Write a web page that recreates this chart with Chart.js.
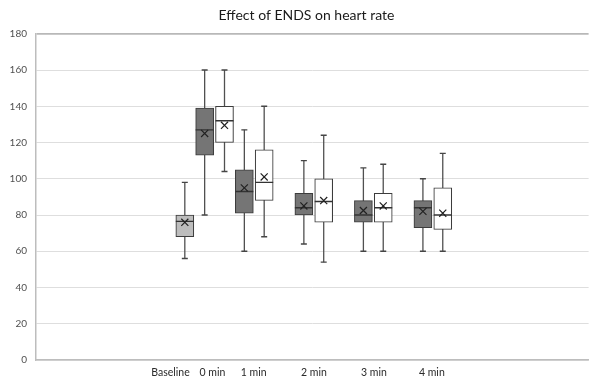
<!DOCTYPE html>
<html><head><meta charset="utf-8">
<script src="https://cdn.jsdelivr.net/npm/chart.js@4/dist/chart.umd.min.js"></script>
<style>html,body{margin:0;padding:0;background:#fff}#wrap{width:599px;height:381px}</style>
</head><body><div id="wrap"><canvas id="c" width="599" height="381"></canvas></div>
<script>
// ---- data ----
const categories = ['Baseline', '0 min', '1 min', '2 min', '3 min', '4 min'];
const categoryX  = [-0.72, 1.39, 3.47, 6.51, 9.53, 12.45];   // where each axis label sits on the x value scale
const boxX       = [0, 1, 2, 3, 4, 6, 7, 9, 10, 12, 13];      // x value of each box
const boxGroup   = ['baseline', 'dark', 'white', 'dark', 'white', 'dark', 'white', 'dark', 'white', 'dark', 'white'];
const boxMin     = [56, 80, 104, 60, 68, 64, 54, 60, 60, 60, 60];
const boxQ1      = [68, 113, 120, 81, 88, 80, 76, 76, 76, 73, 72];
const boxMedian  = [76.5, 127, 132, 93, 98, 84, 87.5, 80, 84, 84, 80];
const boxMean    = [76, 125, 129.5, 95, 101, 85, 88, 82.5, 85, 82, 81];
const boxQ3      = [80, 139, 140, 105, 116, 92, 100, 88, 92, 88, 95];
const boxMax     = [98, 160, 160, 127, 140, 110, 124, 106, 108, 100, 114];
const yTicksMin = 0, yTicksMax = 180, yStep = 20;

// ---- styles ----
const fillFor = { baseline: '#bdbdbd', dark: '#757575', white: '#ffffff' };
const FONT = 'Lato, "Open Sans", sans-serif';

const whiskerData = boxX.flatMap((x, i) => [{x, y: boxMin[i]}, {x, y: boxMax[i]}, {x, y: null}]);
const capData = boxX.flatMap((x, i) => [{x, y: boxMin[i]}, {x, y: boxMax[i]}]);

const titleShift = {
  id: 'titleShift',
  afterLayout(chart) { if (chart.titleBlock) { chart.titleBlock.left = 15; } }
};

new Chart(document.getElementById('c'), {
  type: 'bar',
  plugins: [titleShift],
  data: {
    datasets: [
      { type: 'line', data: whiskerData, borderColor: '#505050', borderWidth: 1.3,
        pointRadius: 0, spanGaps: false, order: 5 },
      { type: 'bar', data: boxX.map((x, i) => ({x, y: [boxQ1[i], boxQ3[i]]})),
        backgroundColor: boxGroup.map(g => fillFor[g]), borderColor: '#3c3c3c', borderWidth: 1.1,
        borderSkipped: false, barThickness: 18, grouped: false, order: 4 },
      { type: 'scatter', data: capData, pointStyle: 'line', pointRadius: 3,
        pointBorderColor: '#454545', pointBorderWidth: 1.4, pointBackgroundColor: '#454545', order: 3 },
      { type: 'scatter', data: boxX.map((x, i) => ({x, y: boxMedian[i]})), pointStyle: 'line', pointRadius: 9,
        pointBorderColor: '#333', pointBorderWidth: 1.4, pointBackgroundColor: '#333', order: 2 },
      { type: 'scatter', data: boxX.map((x, i) => ({x, y: boxMean[i]})), pointStyle: 'crossRot', pointRadius: 5,
        pointBorderColor: '#222', pointBorderWidth: 1.2, pointBackgroundColor: '#222', order: 1 }
    ]
  },
  options: {
    responsive: false, animation: false, events: [],
    layout: { padding: { left: 0, right: 1, top: 0, bottom: 0 } },
    plugins: {
      legend: { display: false }, tooltip: { enabled: false },
      title: { display: true, text: 'Effect of ENDS on heart rate', color: '#1a1a1a',
        font: { family: FONT, size: 14, weight: 'normal' }, padding: { top: 7, bottom: 10 } }
    },
    scales: {
      x: {
        type: 'linear', min: -7.5, max: 20.35, bounds: 'data', offset: false,
        grid: { display: false, offset: false, drawTicks: false },
        border: { display: true, color: '#bdbdbd', width: 1.5 },
        afterBuildTicks: s => { s.ticks = categoryX.map(v => ({value: v})); },
        afterFit: s => { s.height = 21; },
        ticks: { autoSkip: false, maxRotation: 0, padding: 6, color: '#2a2a2a',
          font: { family: FONT, size: 10.5 },
          callback: (v, i) => categories[i] }
      },
      y: {
        min: yTicksMin, max: yTicksMax,
        afterFit: s => { s.width = 36; },
        ticks: { stepSize: yStep, padding: 9, color: '#505050', font: { family: FONT, size: 10 } },
        grid: { drawTicks: false,
          color: c => c.tick && c.tick.value === yTicksMax ? '#b8b8b8' : '#dedede',
          lineWidth: c => c.tick && c.tick.value === yTicksMax ? 1.8 : 1 },
        border: { display: true, color: '#bdbdbd', width: 1.5 }
      }
    }
  }
});
</script></body></html>
